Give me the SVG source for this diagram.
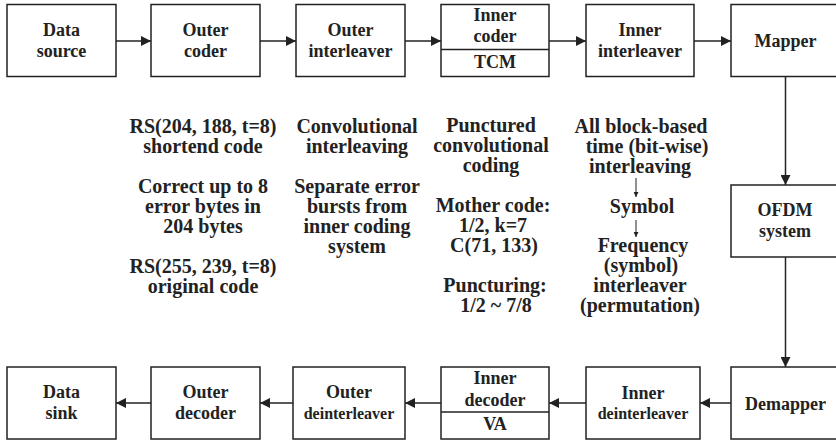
<svg xmlns="http://www.w3.org/2000/svg" width="836" height="443" viewBox="0 0 836 443">
<defs>
<style>
.box{fill:#fff;stroke:#222;stroke-width:1.5}
.t{font-family:"Liberation Serif","Times New Roman",serif;font-weight:bold;font-size:18px;fill:#222;text-anchor:middle}
.s{font-size:16px}
.m{font-family:"Liberation Serif","Times New Roman",serif;font-weight:bold;font-size:20px;fill:#222;text-anchor:middle}
.c{stroke:#222;stroke-width:1.5;fill:none}
.c2{stroke:#222;stroke-width:1;fill:none}
</style>
<marker id="ah" viewBox="0 0 10 10" refX="10" refY="5" markerUnits="userSpaceOnUse" markerWidth="10" markerHeight="10" orient="auto">
<path d="M0,0 L10,5 L0,10 z" fill="#222"/>
</marker>
<marker id="sh" viewBox="0 0 10 10" refX="10" refY="5" markerUnits="userSpaceOnUse" markerWidth="6" markerHeight="5" orient="auto">
<path d="M0,0 L10,5 L0,10 z" fill="#222"/>
</marker>
</defs>
<rect width="836" height="443" fill="#fff"/>

<g id="connectors">
<line class="c" x1="116" y1="41" x2="151" y2="41" marker-end="url(#ah)"/>
<line class="c" x1="260" y1="41" x2="296" y2="41" marker-end="url(#ah)"/>
<line class="c" x1="405" y1="41" x2="441" y2="41" marker-end="url(#ah)"/>
<line class="c" x1="549" y1="41" x2="586" y2="41" marker-end="url(#ah)"/>
<line class="c" x1="694" y1="41" x2="731" y2="41" marker-end="url(#ah)"/>
<line class="c" x1="785.5" y1="76" x2="785.5" y2="185" marker-end="url(#ah)"/>
<line class="c" x1="785.5" y1="257" x2="785.5" y2="367" marker-end="url(#ah)"/>
<line class="c" x1="731" y1="403" x2="700" y2="403" marker-end="url(#ah)"/>
<line class="c" x1="586" y1="403" x2="549" y2="403" marker-end="url(#ah)"/>
<line class="c" x1="441" y1="403" x2="405" y2="403" marker-end="url(#ah)"/>
<line class="c" x1="293" y1="403" x2="260" y2="403" marker-end="url(#ah)"/>
<line class="c" x1="151" y1="403" x2="116" y2="403" marker-end="url(#ah)"/>
<line class="c2" x1="636" y1="178" x2="636" y2="197" marker-end="url(#sh)"/>
<line class="c2" x1="636" y1="220" x2="636" y2="237" marker-end="url(#sh)"/>
</g>

<g id="data-source">
<rect class="box" x="7" y="4.5" width="109" height="72"/>
<text class="t" x="61.5" y="36">Data</text>
<text class="t" x="61.5" y="57">source</text>
</g>
<g id="outer-coder">
<rect class="box" x="151" y="4.5" width="109" height="72"/>
<text class="t" x="205.5" y="36">Outer</text>
<text class="t" x="205.5" y="57">coder</text>
</g>
<g id="outer-interleaver">
<rect class="box" x="296" y="4.5" width="109" height="72"/>
<text class="t" x="350.5" y="36">Outer</text>
<text class="t" x="350.5" y="57">interleaver</text>
</g>
<g id="inner-coder">
<rect class="box" x="441" y="4.5" width="108" height="72"/>
<line class="c" x1="441" y1="49.5" x2="549" y2="49.5"/>
<text class="t" x="495" y="21">Inner</text>
<text class="t" x="495" y="42">coder</text>
<text class="t" x="495" y="68">TCM</text>
</g>
<g id="inner-interleaver">
<rect class="box" x="586" y="4.5" width="108" height="72"/>
<text class="t" x="640" y="36">Inner</text>
<text class="t" x="640" y="57">interleaver</text>
</g>
<g id="mapper">
<rect class="box" x="731" y="4.5" width="109" height="72"/>
<text class="t" x="785.5" y="47">Mapper</text>
</g>
<g id="ofdm-system">
<rect class="box" x="731" y="185" width="109" height="72"/>
<text class="t" x="785" y="216">OFDM</text>
<text class="t" x="785" y="237">system</text>
</g>
<g id="demapper">
<rect class="box" x="731" y="367" width="109" height="72"/>
<text class="t" x="785.5" y="410">Demapper</text>
</g>
<g id="inner-deinterleaver">
<rect class="box" x="586" y="367" width="114" height="72"/>
<text class="t" x="643" y="399">Inner</text>
<text class="t s" x="643" y="419">deinterleaver</text>
</g>
<g id="inner-decoder">
<rect class="box" x="441" y="367" width="108" height="72"/>
<line class="c" x1="441" y1="412" x2="549" y2="412"/>
<text class="t" x="495" y="384">Inner</text>
<text class="t" x="495" y="406">decoder</text>
<text class="t" x="495" y="430">VA</text>
</g>
<g id="outer-deinterleaver">
<rect class="box" x="293" y="367" width="112" height="72"/>
<text class="t" x="349" y="398">Outer</text>
<text class="t s" x="349" y="419">deinterleaver</text>
</g>
<g id="outer-decoder">
<rect class="box" x="151" y="367" width="109" height="72"/>
<text class="t" x="205.5" y="398">Outer</text>
<text class="t" x="205.5" y="419">decoder</text>
</g>
<g id="data-sink">
<rect class="box" x="7" y="367" width="109" height="72"/>
<text class="t" x="61.5" y="398">Data</text>
<text class="t" x="61.5" y="419">sink</text>
</g>

<g id="notes-outer-code">
<text class="m" x="203" y="133">RS(204, 188, t=8)</text>
<text class="m" x="203" y="153">shortend code</text>
<text class="m" x="203" y="193">Correct up to 8</text>
<text class="m" x="203" y="213">error bytes in</text>
<text class="m" x="203" y="233">204 bytes</text>
<text class="m" x="203" y="273">RS(255, 239, t=8)</text>
<text class="m" x="203" y="293">original code</text>
</g>
<g id="notes-outer-interleaver">
<text class="m" x="357" y="133">Convolutional</text>
<text class="m" x="357" y="153">interleaving</text>
<text class="m" x="357" y="193">Separate error</text>
<text class="m" x="357" y="213">bursts from</text>
<text class="m" x="357" y="233">inner coding</text>
<text class="m" x="357" y="253">system</text>
</g>
<g id="notes-inner-code">
<text class="m" x="491" y="132">Punctured</text>
<text class="m" x="491" y="152">convolutional</text>
<text class="m" x="491" y="172">coding</text>
<text class="m" x="493" y="212">Mother code:</text>
<text class="m" x="493" y="232">1/2, k=7</text>
<text class="m" x="494" y="252">C(71, 133)</text>
<text class="m" x="495" y="292">Puncturing:</text>
<text class="m" x="496" y="312">1/2 ~ 7/8</text>
</g>
<g id="notes-inner-interleaver">
<text class="m" x="641" y="133">All block-based</text>
<text class="m" x="647" y="153">time (bit-wise)</text>
<text class="m" x="640" y="173">interleaving</text>
<text class="m" x="642" y="213">Symbol</text>
<text class="m" x="643" y="252">Frequency</text>
<text class="m" x="641" y="272">(symbol)</text>
<text class="m" x="640" y="292">interleaver</text>
<text class="m" x="640" y="312">(permutation)</text>
</g>
</svg>
